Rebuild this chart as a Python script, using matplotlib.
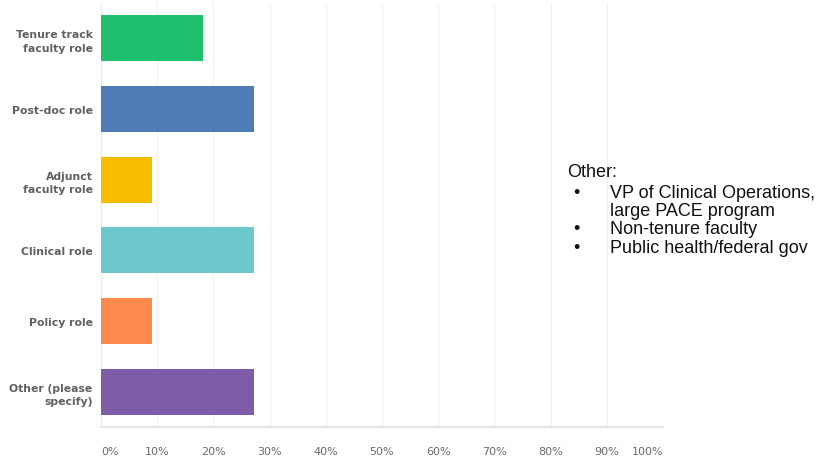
import numpy as np
import matplotlib.pyplot as plt

categories = ['Tenure track\nfaculty role', 'Post-doc role', 'Adjunct\nfaculty role',
              'Clinical role', 'Policy role', 'Other (please\nspecify)']
percents = [18.18, 27.27, 9.09, 27.27, 9.09, 27.27]
colors = ['#1ec06e', '#507cb6', '#f7be00', '#6cc8cd', '#ff8a4e', '#7d5ba6']
ticks = [0, 10, 20, 30, 40, 50, 60, 70, 80, 90, 100]
tick_labels = [str(t) + '%' for t in ticks]

other_title = 'Other:'
other_items = [['VP of Clinical Operations,', 'large PACE program'],
               ['Non-tenure faculty'],
               ['Public health/federal gov']]

fig = plt.figure(figsize=(8.24, 4.6), dpi=100)
ax = fig.add_axes([101 / 824, 1 - 428 / 460, 562 / 824, 424 / 460])

y = np.arange(len(categories))
ax.barh(y, percents, height=0.65, color=colors, zorder=3)
ax.set_ylim(len(categories) - 0.5, -0.5)
ax.set_xlim(0, 100)

ax.set_xticks(ticks)
ax.set_xticklabels(tick_labels, fontsize=8, color='#6a6a6a')
labels = ax.get_xticklabels()
labels[0].set_ha('left')
labels[-1].set_ha('right')
ax.set_yticks(y)
ax.set_yticklabels(categories, fontsize=7.8, color='#606060', fontweight='bold',
                   linespacing=1.45)
ax.tick_params(axis='both', length=0)
ax.tick_params(axis='x', pad=14)
ax.tick_params(axis='y', pad=6)
ax.xaxis.grid(True, color='#f2f2f2', linewidth=1, zorder=0)

for side in ['top', 'right']:
    ax.spines[side].set_visible(False)
ax.spines['left'].set_color('#eeeeee')
ax.spines['bottom'].set_color('#e0e0e0')
ax.spines['bottom'].set_linewidth(1.2)

# notes for the "Other" answers
txt = dict(fontsize=13, family='Liberation Sans', va='center', color='#111111')
fig.text(567 / 824, 1 - 173 / 460, other_title, **txt)
ly = 193
for item in other_items:
    fig.text(573 / 824, 1 - ly / 460, '\u2022', **txt)
    for line in item:
        fig.text(610 / 824, 1 - ly / 460, line, **txt)
        ly += 18.5

plt.savefig('out.png', dpi=100)
